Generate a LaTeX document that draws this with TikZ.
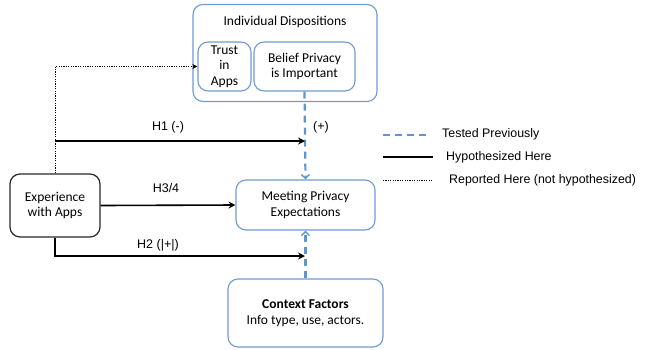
\documentclass[tikz,border=0pt]{standalone}
\usepackage{fontspec}
\setmainfont{Carlito}
\newfontfamily\arialfont{Liberation Sans}
\usetikzlibrary{arrows.meta}
\definecolor{boxblue}{RGB}{110,155,210}
\definecolor{dashblue}{RGB}{95,150,210}
\tikzset{
  bluebox/.style={draw=boxblue, line width=1.1pt, rounded corners=10pt, align=center, font=\fontsize{13.5}{15.5}\selectfont, inner sep=0pt},
  blackbox/.style={draw=black!85, line width=1.2pt, rounded corners=10pt, align=center, font=\fontsize{13.5}{15.5}\selectfont, inner sep=0pt},
  hyp/.style={line width=1.6pt, -{Stealth[length=7pt,width=7pt,inset=2.5pt]}},
  tested/.style={draw=dashblue, line width=2.2pt, dash pattern=on 7pt off 5pt, -{Straight Barb[length=4pt,width=8pt,line width=1.4pt]}, color=dashblue},
  reported/.style={line width=0.8pt, dash pattern=on 1.2pt off 1.2pt, -{Stealth[length=5pt,width=5pt,inset=1.5pt]}},
  lbl/.style={font=\arialfont\fontsize{12.5}{14}\selectfont},
  legtext/.style={font=\arialfont\fontsize{12.4}{14}\selectfont, anchor=west, inner sep=0pt}
}
\begin{document}
\begin{tikzpicture}[x=1pt,y=-1pt]
\useasboundingbox (0,0) rectangle (646,349);
% boxes
\node[bluebox, minimum width=184pt, minimum height=97pt] (outer) at (285,53) {};
\node[font=\fontsize{13.5}{15.5}\selectfont] (title) at (285,22) {Individual Dispositions};
\node[bluebox, minimum width=53pt, minimum height=49pt] (trust) at (224.5,66.5) {Trust\\in\\Apps};
\node[bluebox, minimum width=101pt, minimum height=49pt] (belief) at (304.5,66.5) {Belief Privacy\\is Important};
\node[bluebox, minimum width=139pt, minimum height=50pt] (meet) at (305.5,205) {Meeting Privacy\\Expectations};
\node[blackbox, minimum width=90pt, minimum height=63pt] (exp) at (55,205.5) {Experience\\with Apps};
\node[bluebox, minimum width=155pt, minimum height=68pt] (ctx) at (305.5,313) {\textbf{Context Factors}\\Info type, use, actors.};
% coordinates
\coordinate (h1s) at (55,141);
\coordinate (h1e) at (305,141);
\coordinate (h2e) at (305,256);
% connectors
\draw[tested] (belief.south) -- (meet.north);
\draw[tested] (ctx.north) -- (meet.south);
\draw[reported] (exp.north) |- (trust.west);
\draw[hyp] (h1s) -- (h1e);
\draw[hyp] (exp.east) -- (meet.west);
\draw[hyp] (exp.south) |- (h2e);
% labels
\node[lbl] (l1) at (168,127) {H1 (-)};
\node[lbl] (lp) at (321,127) {(+)};
\node[lbl] (l34) at (166,188) {H3/4};
\node[lbl] (l2) at (158,245) {H2 (|+|)};
% legend
\coordinate (a1) at (383,135); \coordinate (b1) at (431,135);
\coordinate (a2) at (383,157); \coordinate (b2) at (433,157);
\coordinate (a3) at (383,180); \coordinate (b3) at (432,180);
\draw[draw=dashblue, line width=2.2pt, dash pattern=on 7pt off 5pt] (a1) -- (b1);
\draw[line width=1.6pt] (a2) -- (b2);
\draw[line width=0.8pt, dash pattern=on 1.2pt off 1.2pt] (a3) -- (b3);
\node[legtext] (t1) at (442,134) {Tested Previously};
\node[legtext] (t2) at (446,157) {Hypothesized Here};
\node[legtext] (t3) at (449,180) {Reported Here (not hypothesized)};
\end{tikzpicture}
\end{document}
